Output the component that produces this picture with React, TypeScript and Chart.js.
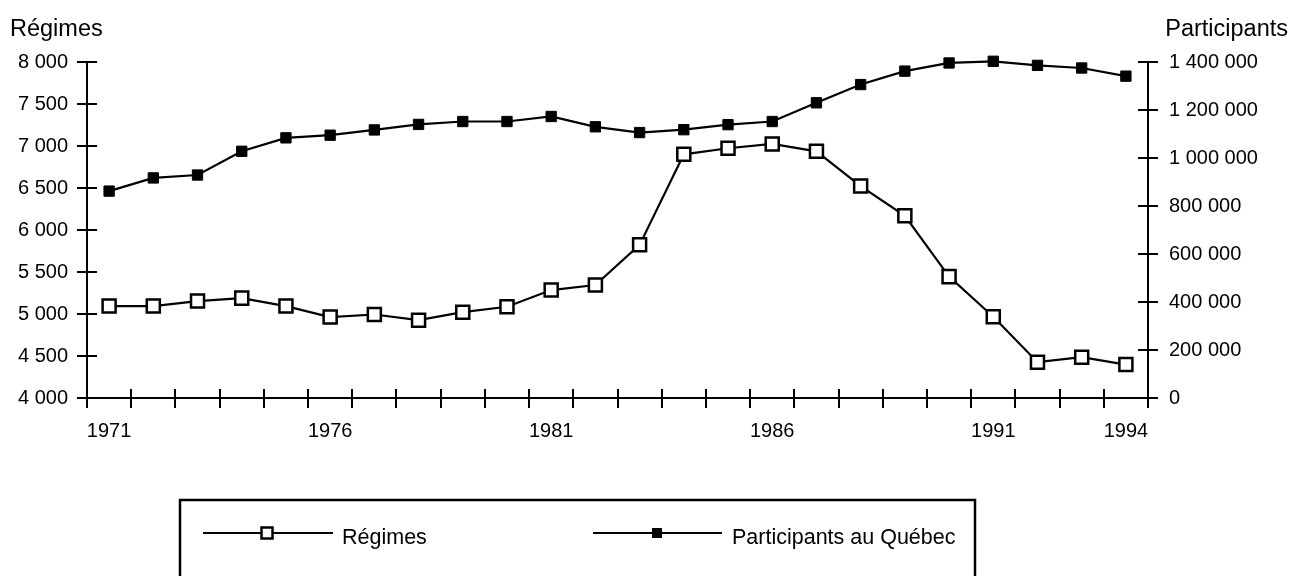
import React, { useEffect, useRef } from 'react';
import { Chart, registerables } from 'chart.js';

Chart.register(...registerables);

const FONT = "'Liberation Sans', Arial, Helvetica, sans-serif";

const years = [
  '1971', '1972', '1973', '1974', '1975', '1976', '1977', '1978', '1979', '1980', '1981', '1982',
  '1983', '1984', '1985', '1986', '1987', '1988', '1989', '1990', '1991', '1992', '1993', '1994',
];
const shownYearLabels = ['1971', '1976', '1981', '1986', '1991', '1994'];

const regimes = [
  5094, 5094, 5154, 5189, 5094, 4963, 4994, 4927, 5022, 5086, 5285, 5345,
  5823, 6901, 6973, 7025, 6937, 6523, 6169, 5445, 4967, 4426, 4486, 4398,
];
const participants = [
  862000, 917000, 929000, 1028000, 1084000, 1095000, 1117000, 1140000, 1152000, 1152000, 1173000, 1130000,
  1106000, 1118000, 1139000, 1152000, 1230000, 1306000, 1362000, 1396000, 1403000, 1386000, 1375000, 1341000,
];

const seriesLabels = ['Régimes', 'Participants au Québec'];
const leftAxisTitle = 'Régimes';
const rightAxisTitle = 'Participants';

const leftMin = 4000;
const leftMax = 8000;
const leftStep = 500;
const rightMin = 0;
const rightMax = 1400000;
const rightStep = 200000;

const fmt = (v: number) => String(Math.round(v)).replace(/\B(?=(\d{3})+(?!\d))/g, ' ');

const crossTicks = {
  id: 'crossTicks',
  beforeDatasetsDraw(chart: any) {
    const { ctx, scales } = chart;
    ctx.save();
    ctx.strokeStyle = '#000';
    ctx.lineWidth = 2;
    const line = (x1: number, y1: number, x2: number, y2: number) => {
      ctx.beginPath();
      ctx.moveTo(x1, y1);
      ctx.lineTo(x2, y2);
      ctx.stroke();
    };
    const x = scales.x;
    const n = x.ticks.length;
    for (let i = 0; i <= n; i++) {
      const px = Math.round(x.left + (i * x.width) / n);
      line(px, x.top, px, x.top - 9);
    }
    const y = scales.y;
    y.ticks.forEach((t: any) => {
      const py = Math.round(y.getPixelForValue(t.value));
      line(y.right, py, y.right + 10, py);
    });
    const y1 = scales.y1;
    y1.ticks.forEach((t: any) => {
      const py = Math.round(y1.getPixelForValue(t.value));
      line(y1.left - 10, py, y1.left, py);
    });
    ctx.restore();
  },
};

const titlesAndLegend = {
  id: 'titlesAndLegend',
  afterDraw(chart: any) {
    const { ctx } = chart;
    ctx.save();
    ctx.fillStyle = '#000';
    ctx.textBaseline = 'alphabetic';
    ctx.font = `23.5px ${FONT}`;
    ctx.textAlign = 'left';
    ctx.fillText(leftAxisTitle, 10, 36);
    ctx.textAlign = 'right';
    ctx.fillText(rightAxisTitle, 1288, 36);

    // legend box
    ctx.strokeStyle = '#000';
    ctx.lineWidth = 2.5;
    ctx.strokeRect(180, 500, 795, 120);

    const items = [
      { x0: 203, x1: 333, mx: 267, tx: 342 },
      { x0: 593, x1: 722, mx: 657, tx: 732 },
    ];
    const ly = 533;
    chart.data.datasets.forEach((ds: any, i: number) => {
      const it = items[i];
      ctx.strokeStyle = ds.borderColor;
      ctx.lineWidth = 2.2;
      ctx.beginPath();
      ctx.moveTo(it.x0, ly);
      ctx.lineTo(it.x1, ly);
      ctx.stroke();
      const side = i === 0 ? 11 : 10;
      ctx.fillStyle = ds.pointBackgroundColor;
      ctx.fillRect(it.mx - side / 2, ly - side / 2, side, side);
      if (ds.pointBorderWidth > 1) {
        ctx.lineWidth = 2.5;
        ctx.strokeStyle = ds.pointBorderColor;
        ctx.strokeRect(it.mx - side / 2, ly - side / 2, side, side);
      }
      ctx.fillStyle = '#000';
      ctx.textAlign = 'left';
      ctx.font = `21.5px ${FONT}`;
      ctx.fillText(ds.label, it.tx, 544);
    });
    ctx.restore();
  },
};

export default function App() {
  const ref = useRef<HTMLCanvasElement | null>(null);

  useEffect(() => {
    if (!ref.current) return;
    const chart = new Chart(ref.current, {
      type: 'line',
      data: {
        labels: years,
        datasets: [
          {
            label: seriesLabels[0],
            data: regimes,
            yAxisID: 'y',
            borderColor: '#000',
            borderWidth: 2.2,
            pointStyle: 'rect',
            pointRadius: 9.2,
            pointBackgroundColor: '#fff',
            pointBorderColor: '#000',
            pointBorderWidth: 2.5,
            tension: 0,
            clip: false,
          },
          {
            label: seriesLabels[1],
            data: participants,
            yAxisID: 'y1',
            borderColor: '#000',
            borderWidth: 2.2,
            pointStyle: 'rect',
            pointRadius: 7.3,
            pointBackgroundColor: '#000',
            pointBorderColor: '#000',
            pointBorderWidth: 1,
            tension: 0,
            clip: false,
          },
        ],
      },
      options: {
        responsive: false,
        animation: false,
        layout: { padding: { top: 62, left: 0, right: 0, bottom: 0 } },
        plugins: {
          legend: { display: false },
          tooltip: { enabled: false },
          title: { display: false },
        },
        scales: {
          x: {
            type: 'category',
            offset: true,
            grid: {
              offset: true,
              drawOnChartArea: false,
              color: '#000',
              lineWidth: 2,
              tickLength: 10,
            },
            border: { color: '#000', width: 2 },
            ticks: {
              autoSkip: false,
              maxRotation: 0,
              color: '#000',
              padding: 11,
              font: { family: FONT, size: 20 },
              callback: function (this: any, value: any) {
                const lab = this.getLabelForValue(value);
                return shownYearLabels.includes(lab) ? lab : '';
              },
            },
            afterFit: (s: any) => {
              s.height = 178;
            },
          },
          y: {
            type: 'linear',
            position: 'left',
            min: leftMin,
            max: leftMax,
            grid: { drawOnChartArea: false, color: '#000', lineWidth: 2, tickLength: 10 },
            border: { color: '#000', width: 2 },
            ticks: {
              stepSize: leftStep,
              color: '#000',
              padding: 9,
              font: { family: FONT, size: 20 },
              callback: (v: any) => fmt(Number(v)),
            },
            afterFit: (s: any) => {
              s.width = 87;
            },
          },
          y1: {
            type: 'linear',
            position: 'right',
            min: rightMin,
            max: rightMax,
            grid: { drawOnChartArea: false, color: '#000', lineWidth: 2, tickLength: 10 },
            border: { color: '#000', width: 2 },
            ticks: {
              stepSize: rightStep,
              color: '#000',
              padding: 11,
              font: { family: FONT, size: 20 },
              callback: (v: any) => fmt(Number(v)),
            },
            afterFit: (s: any) => {
              s.width = 152;
            },
          },
        },
      },
      plugins: [crossTicks, titlesAndLegend],
    });
    return () => chart.destroy();
  }, []);

  return (
    <div style={{ position: 'absolute', left: 0, top: 0, width: 1300, height: 576, background: '#fff' }}>
      <canvas ref={ref} width={1300} height={576} style={{ display: 'block' }} />
    </div>
  );
}
